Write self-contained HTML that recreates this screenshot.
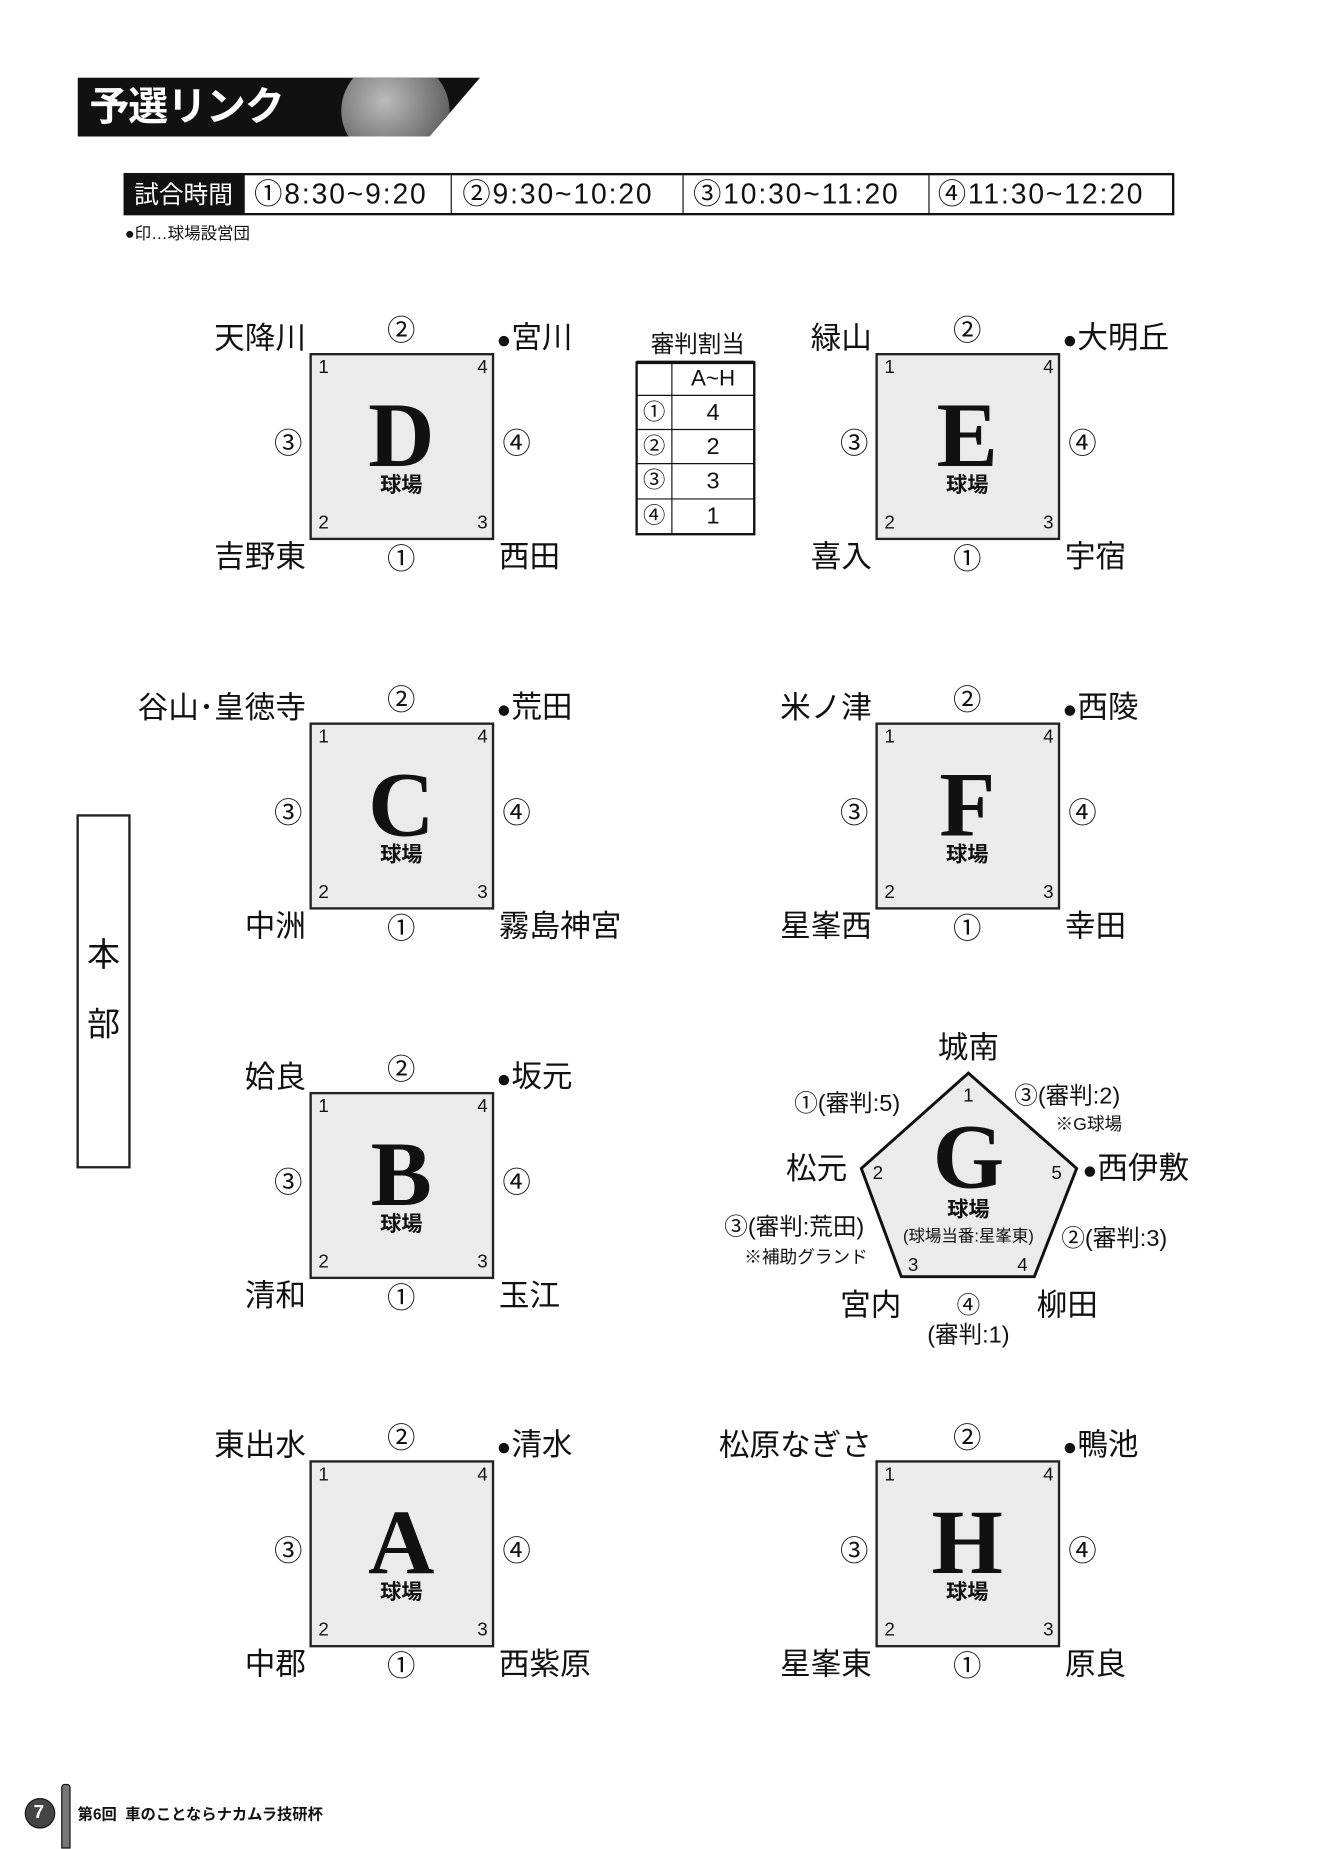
<!DOCTYPE html>
<html><head><meta charset="utf-8">
<style>
html,body{margin:0;padding:0;background:#fff;}
body{width:1332px;height:1846px;overflow:hidden;position:relative;}
#pg{position:absolute;left:0;top:0;width:1132px;height:1569px;transform:scale(1.17668);transform-origin:0 0;font-family:"Liberation Sans","Noto Sans CJK JP",sans-serif;color:#111;}
.a{position:absolute;white-space:nowrap;line-height:1;}
.c{transform:translate(-50%,-50%);}
.r{transform:translate(-100%,-50%);}
.l{transform:translate(0,-50%);}
.bx{position:absolute;width:157px;height:159px;}
.sq{position:absolute;left:0;top:0;width:153px;height:155px;border:2px solid #222;background:#ebebeb;}
.lb{font-size:26px;}
.cn{font-size:24px;}
.k{font-size:16px;}
.big{font-family:"Liberation Serif","Noto Serif CJK SC",serif;font-weight:bold;font-size:78px;}
.kj{font-size:18px;font-weight:bold;}
.tt{font-size:24px;letter-spacing:1.6px;}
.dot{font-size:0.8em;}
</style></head><body><div id="pg">

<!-- banner -->
<svg class="a" style="left:66px;top:66px" width="345" height="50">
<defs><clipPath id="cp"><polygon points="0,0 342,0 299,50 0,50"/></clipPath>
<radialGradient id="bg" cx="0.4" cy="0.4" r="0.7"><stop offset="0" stop-color="#bbb"/><stop offset="1" stop-color="#555"/></radialGradient></defs>
<polygon points="0,0 342,0 299,50 0,50" fill="#111"/>
<g clip-path="url(#cp)"><ellipse cx="270" cy="28" rx="46" ry="44" fill="url(#bg)"/></g>
</svg>
<div class="a l" style="left:76px;top:91px;color:#fff;font-size:34px;font-weight:bold;letter-spacing:-1px">予選リンク</div>

<!-- time table -->
<div class="a" style="left:105px;top:147px;width:889px;height:32px;border:2px solid #111;"></div>
<div class="a" style="left:106px;top:148px;width:102px;height:34px;background:#111;"></div>
<div class="a l" style="left:114px;top:166px;color:#fff;font-size:21px;">試合時間</div>
<div class="a" style="left:383px;top:149px;width:1px;height:32px;background:#111"></div>
<div class="a" style="left:580px;top:149px;width:1px;height:32px;background:#111"></div>
<div class="a" style="left:789px;top:149px;width:1px;height:32px;background:#111"></div>
<div class="a l tt" style="left:216px;top:166px;">①8:30~9:20</div>
<div class="a l tt" style="left:393px;top:166px;">②9:30~10:20</div>
<div class="a l tt" style="left:589px;top:166px;">③10:30~11:20</div>
<div class="a l tt" style="left:797px;top:166px;">④11:30~12:20</div>
<div class="a l" style="left:106px;top:198px;font-size:14px;">●印…球場設営団</div>

<!-- referee table -->
<div class="a c" style="left:593px;top:293px;font-size:20px;">審判割当</div>
<svg class="a" style="left:540px;top:306px" width="104" height="150">
<rect x="1" y="2" width="100" height="146" fill="#fff" stroke="#111" stroke-width="2"/>
<line x1="1" y1="2" x2="101" y2="2" stroke="#111" stroke-width="3"/>
<line x1="31" y1="2" x2="31" y2="148" stroke="#111"/>
<line x1="1" y1="30" x2="101" y2="30" stroke="#111"/>
<line x1="1" y1="59" x2="101" y2="59" stroke="#111"/>
<line x1="1" y1="88" x2="101" y2="88" stroke="#111"/>
<line x1="1" y1="118" x2="101" y2="118" stroke="#111"/>
</svg>
<div class="a c" style="left:606px;top:322px;font-size:19px;">A~H</div>
<div class="a c" style="left:556px;top:351px;font-size:19px;">①</div><div class="a c" style="left:606px;top:351px;font-size:20px;">4</div>
<div class="a c" style="left:556px;top:380px;font-size:19px;">②</div><div class="a c" style="left:606px;top:380px;font-size:20px;">2</div>
<div class="a c" style="left:556px;top:409px;font-size:19px;">③</div><div class="a c" style="left:606px;top:409px;font-size:20px;">3</div>
<div class="a c" style="left:556px;top:439px;font-size:19px;">④</div><div class="a c" style="left:606px;top:439px;font-size:20px;">1</div>

<!-- 本部 -->
<div class="a" style="left:65px;top:692px;width:42px;height:297px;border:2px solid #222;"></div>
<div class="a c" style="left:88px;top:812px;font-size:28px;">本</div>
<div class="a c" style="left:88px;top:871px;font-size:28px;">部</div>

<!-- D -->
<div class="bx" style="left:263px;top:300px"><div class="sq"></div>
<div class="a c k" style="left:12px;top:13px">1</div><div class="a c k" style="left:147px;top:13px">4</div><div class="a c k" style="left:12px;top:145px">2</div><div class="a c k" style="left:147px;top:145px">3</div>
<div class="a c big" style="left:78px;top:70px">D</div><div class="a c kj" style="left:78px;top:112px">球場</div>
<div class="a r lb" style="left:-3px;top:-13px">天降川</div><div class="a c cn" style="left:78px;top:-18px">②</div><div class="a l lb" style="left:159px;top:-13px"><span class="dot">●</span>宮川</div>
<div class="a c cn" style="left:-18px;top:78px">③</div><div class="a c cn" style="left:176px;top:78px">④</div>
<div class="a r lb" style="left:-3px;top:173px">吉野東</div><div class="a c cn" style="left:78px;top:176px">①</div><div class="a l lb" style="left:161px;top:173px">西田</div>
</div>
<!-- E -->
<div class="bx" style="left:744px;top:300px"><div class="sq"></div>
<div class="a c k" style="left:12px;top:13px">1</div><div class="a c k" style="left:147px;top:13px">4</div><div class="a c k" style="left:12px;top:145px">2</div><div class="a c k" style="left:147px;top:145px">3</div>
<div class="a c big" style="left:78px;top:70px">E</div><div class="a c kj" style="left:78px;top:112px">球場</div>
<div class="a r lb" style="left:-3px;top:-13px">緑山</div><div class="a c cn" style="left:78px;top:-18px">②</div><div class="a l lb" style="left:159px;top:-13px"><span class="dot">●</span>大明丘</div>
<div class="a c cn" style="left:-18px;top:78px">③</div><div class="a c cn" style="left:176px;top:78px">④</div>
<div class="a r lb" style="left:-3px;top:173px">喜入</div><div class="a c cn" style="left:78px;top:176px">①</div><div class="a l lb" style="left:161px;top:173px">宇宿</div>
</div>
<!-- C -->
<div class="bx" style="left:263px;top:614px"><div class="sq"></div>
<div class="a c k" style="left:12px;top:13px">1</div><div class="a c k" style="left:147px;top:13px">4</div><div class="a c k" style="left:12px;top:145px">2</div><div class="a c k" style="left:147px;top:145px">3</div>
<div class="a c big" style="left:78px;top:70px">C</div><div class="a c kj" style="left:78px;top:112px">球場</div>
<div class="a r lb" style="left:-3px;top:-13px">谷山･皇徳寺</div><div class="a c cn" style="left:78px;top:-18px">②</div><div class="a l lb" style="left:159px;top:-13px"><span class="dot">●</span>荒田</div>
<div class="a c cn" style="left:-18px;top:78px">③</div><div class="a c cn" style="left:176px;top:78px">④</div>
<div class="a r lb" style="left:-3px;top:173px">中洲</div><div class="a c cn" style="left:78px;top:176px">①</div><div class="a l lb" style="left:161px;top:173px">霧島神宮</div>
</div>
<!-- F -->
<div class="bx" style="left:744px;top:614px"><div class="sq"></div>
<div class="a c k" style="left:12px;top:13px">1</div><div class="a c k" style="left:147px;top:13px">4</div><div class="a c k" style="left:12px;top:145px">2</div><div class="a c k" style="left:147px;top:145px">3</div>
<div class="a c big" style="left:78px;top:70px">F</div><div class="a c kj" style="left:78px;top:112px">球場</div>
<div class="a r lb" style="left:-3px;top:-13px">米ノ津</div><div class="a c cn" style="left:78px;top:-18px">②</div><div class="a l lb" style="left:159px;top:-13px"><span class="dot">●</span>西陵</div>
<div class="a c cn" style="left:-18px;top:78px">③</div><div class="a c cn" style="left:176px;top:78px">④</div>
<div class="a r lb" style="left:-3px;top:173px">星峯西</div><div class="a c cn" style="left:78px;top:176px">①</div><div class="a l lb" style="left:161px;top:173px">幸田</div>
</div>
<!-- B -->
<div class="bx" style="left:263px;top:928px"><div class="sq"></div>
<div class="a c k" style="left:12px;top:13px">1</div><div class="a c k" style="left:147px;top:13px">4</div><div class="a c k" style="left:12px;top:145px">2</div><div class="a c k" style="left:147px;top:145px">3</div>
<div class="a c big" style="left:78px;top:70px">B</div><div class="a c kj" style="left:78px;top:112px">球場</div>
<div class="a r lb" style="left:-3px;top:-13px">姶良</div><div class="a c cn" style="left:78px;top:-18px">②</div><div class="a l lb" style="left:159px;top:-13px"><span class="dot">●</span>坂元</div>
<div class="a c cn" style="left:-18px;top:78px">③</div><div class="a c cn" style="left:176px;top:78px">④</div>
<div class="a r lb" style="left:-3px;top:173px">清和</div><div class="a c cn" style="left:78px;top:176px">①</div><div class="a l lb" style="left:161px;top:173px">玉江</div>
</div>
<!-- A -->
<div class="bx" style="left:263px;top:1241px"><div class="sq"></div>
<div class="a c k" style="left:12px;top:13px">1</div><div class="a c k" style="left:147px;top:13px">4</div><div class="a c k" style="left:12px;top:145px">2</div><div class="a c k" style="left:147px;top:145px">3</div>
<div class="a c big" style="left:78px;top:70px">A</div><div class="a c kj" style="left:78px;top:112px">球場</div>
<div class="a r lb" style="left:-3px;top:-13px">東出水</div><div class="a c cn" style="left:78px;top:-18px">②</div><div class="a l lb" style="left:159px;top:-13px"><span class="dot">●</span>清水</div>
<div class="a c cn" style="left:-18px;top:78px">③</div><div class="a c cn" style="left:176px;top:78px">④</div>
<div class="a r lb" style="left:-3px;top:173px">中郡</div><div class="a c cn" style="left:78px;top:176px">①</div><div class="a l lb" style="left:161px;top:173px">西紫原</div>
</div>
<!-- H -->
<div class="bx" style="left:744px;top:1241px"><div class="sq"></div>
<div class="a c k" style="left:12px;top:13px">1</div><div class="a c k" style="left:147px;top:13px">4</div><div class="a c k" style="left:12px;top:145px">2</div><div class="a c k" style="left:147px;top:145px">3</div>
<div class="a c big" style="left:78px;top:70px">H</div><div class="a c kj" style="left:78px;top:112px">球場</div>
<div class="a r lb" style="left:-3px;top:-13px">松原なぎさ</div><div class="a c cn" style="left:78px;top:-18px">②</div><div class="a l lb" style="left:159px;top:-13px"><span class="dot">●</span>鴨池</div>
<div class="a c cn" style="left:-18px;top:78px">③</div><div class="a c cn" style="left:176px;top:78px">④</div>
<div class="a r lb" style="left:-3px;top:173px">星峯東</div><div class="a c cn" style="left:78px;top:176px">①</div><div class="a l lb" style="left:161px;top:173px">原良</div>
</div>

<!-- G pentagon -->
<svg class="a" style="left:0;top:0" width="1132" height="1569">
<polygon points="823,912 915,993 879,1085 766,1085 732,993" fill="#ebebeb" stroke="#111" stroke-width="2.5" stroke-linejoin="miter"/>
</svg>
<div class="a c k" style="left:823px;top:932px">1</div>
<div class="a c k" style="left:746px;top:998px">2</div>
<div class="a c k" style="left:898px;top:998px">5</div>
<div class="a c k" style="left:776px;top:1076px">3</div>
<div class="a c k" style="left:869px;top:1076px">4</div>
<div class="a c big" style="left:823px;top:983px">G</div>
<div class="a c kj" style="left:823px;top:1028px">球場</div>
<div class="a c" style="left:823px;top:1050px;font-size:14px">(球場当番:星峯東)</div>
<div class="a c lb" style="left:823px;top:890px">城南</div>
<div class="a c" style="left:720px;top:938px;font-size:20px">①(審判:5)</div>
<div class="a l" style="left:862px;top:932px;font-size:20px">③(審判:2)</div>
<div class="a l" style="left:897px;top:956px;font-size:15px">※G球場</div>
<div class="a c lb" style="left:694px;top:993px">松元</div>
<div class="a l lb" style="left:920px;top:993px"><span class="dot">●</span>西伊敷</div>
<div class="a c" style="left:675px;top:1043px;font-size:20px">③(審判:荒田)</div>
<div class="a c" style="left:685px;top:1069px;font-size:15px">※補助グランド</div>
<div class="a l" style="left:902px;top:1053px;font-size:20px">②(審判:3)</div>
<div class="a c lb" style="left:740px;top:1109px">宮内</div>
<div class="a c" style="left:823px;top:1110px;font-size:20px">④</div>
<div class="a c" style="left:823px;top:1135px;font-size:20px">(審判:1)</div>
<div class="a c lb" style="left:907px;top:1109px">柳田</div>

<!-- footer -->
<div class="a" style="left:21px;top:1528px;width:24px;height:24px;border-radius:50%;background:#444;border:1px solid #111"></div>
<div class="a c" style="left:33px;top:1541px;color:#fff;font-weight:bold;font-size:16px">7</div>
<div class="a" style="left:52px;top:1516px;width:6px;height:53px;background:#777;border:1.5px solid #111;border-radius:3px 3px 0 0"></div>
<div class="a l" style="left:66px;top:1542px;font-size:13px;font-weight:bold">第6回&nbsp;&nbsp;車のことならナカムラ技研杯</div>

</div></body></html>
